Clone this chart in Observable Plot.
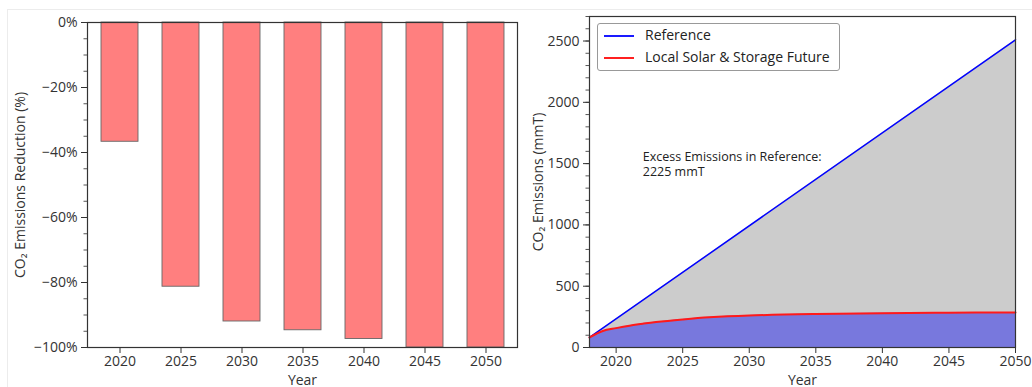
<!DOCTYPE html>
<html>
<head>
<meta charset="utf-8">
<script src="https://cdn.jsdelivr.net/npm/d3@7"></script>
<script src="https://cdn.jsdelivr.net/npm/@observablehq/plot@0.6"></script>
<style>
  html, body { margin: 0; padding: 0; background: #fff; }
  body { width: 1032px; height: 387px; position: relative; overflow: hidden; font-family: "Open Sans", sans-serif; }
  #card { position: absolute; left: 7px; top: 9px; width: 1040px; height: 400px; border-top: 1px solid #ececec; border-left: 1px solid #ececec; }
  #left { position: absolute; left: 0; top: 0; }
  #right { position: absolute; left: 520px; top: 0; }
  #legend { position: absolute; left: 597px; top: 23px; width: 241px; height: 46px; border: 1px solid #999; border-radius: 3px; background: #fff; font-size: 14px; color: #222; }
  .item { position: absolute; left: 0; height: 20px; line-height: 20px; white-space: nowrap; }
  .sw { position: absolute; left: 6px; top: 10px; width: 30px; }
  .lab { position: absolute; left: 47px; top: 0; }
</style>
</head>
<body>
<div id="card"></div>
<div id="left"></div>
<div id="right"></div>
<div id="legend">
  <div class="item" style="top:1px"><div class="sw" style="height:1.5px;background:#1a1aff"></div><span class="lab">Reference</span></div>
  <div class="item" style="top:23px"><div class="sw" style="height:2px;background:#ff2020"></div><span class="lab">Local Solar &amp; Storage Future</span></div>
</div>
<script>
// ---- Left chart data ----
const barYears = ["2020", "2025", "2030", "2035", "2040", "2045", "2050"];
const reductionPct = [-36.7, -81.3, -92.0, -94.7, -97.4, -100, -100];
const leftYTicks = [0, -20, -40, -60, -80, -100];
const leftYMinor = d3.range(-100, 1, 5);

// ---- Right chart data ----
const refYears = [2018, 2050];
const refEmissions = [82, 2510];
const localYears = [2018, 2019, 2020, 2021, 2022, 2023, 2025, 2027, 2030, 2035, 2040, 2045, 2050];
const localEmissions = [82, 135, 158, 178, 194, 208, 229, 246, 261, 273, 280, 284, 286];
const rightYTicks = [0, 500, 1000, 1500, 2000, 2500];
const rightYMinor = d3.range(0, 2701, 100);
const rightXTicks = [2020, 2025, 2030, 2035, 2040, 2045, 2050];
const annotation = "Excess Emissions in Reference:\n2225 mmT";
const annotationAt = {x: 2022, y: 1500};

const barData = barYears.map((y, i) => ({year: y, value: reductionPct[i]}));
const refData = refYears.map((y, i) => ({year: y, value: refEmissions[i]}));
const localData = localYears.map((y, i) => ({year: y, value: localEmissions[i]}));

const pctFmt = d => d === 0 ? "0%" : "\u2212" + Math.abs(d) + "%";
const baseStyle = {fontFamily: "Open Sans, sans-serif", fontSize: "14px", color: "#333", overflow: "visible", background: "transparent"};

const left = Plot.plot({
  width: 520,
  height: 387,
  marginLeft: 87,
  marginRight: 3,
  marginTop: 22,
  marginBottom: 40,
  style: baseStyle,
  x: {type: "band", domain: barYears, paddingInner: 0.4, paddingOuter: 0.2},
  y: {domain: [-100, 0]},
  marks: [
    Plot.barY(barData, {x: "year", y: "value", fill: "#ff7f7f", stroke: "#666", strokeWidth: 0.9}),
    Plot.frame({stroke: "#333", strokeWidth: 1.2}),
    Plot.axisY(leftYMinor, {tickSize: 3.5, text: null, label: null, stroke: "#555"}),
    Plot.axisY(leftYTicks, {tickSize: 6, tickPadding: 4, tickFormat: pctFmt, label: "CO\u2082 Emissions Reduction (%)", labelAnchor: "center", labelArrow: "none", labelOffset: 72, stroke: "#333"}),
    Plot.axisX({tickSize: 6, tickPadding: 3, label: "Year", labelAnchor: "center", labelArrow: "none", labelOffset: 37, stroke: "#333"})
  ]
});
document.getElementById("left").append(left);

const right = Plot.plot({
  width: 512,
  height: 387,
  marginLeft: 69,
  marginRight: 17,
  marginTop: 16,
  marginBottom: 40,
  style: baseStyle,
  x: {domain: [2018, 2050]},
  y: {domain: [0, 2700]},
  marks: [
    Plot.areaY(refData, {x: "year", y: "value", fill: "#cccccc"}),
    Plot.areaY(localData, {x: "year", y: "value", fill: "#7878dd", curve: "catmull-rom"}),
    Plot.lineY(refData, {x: "year", y: "value", stroke: "#0000ff", strokeWidth: 1.5}),
    Plot.lineY(localData, {x: "year", y: "value", stroke: "#ff1a1a", strokeWidth: 2, curve: "catmull-rom"}),
    Plot.text([annotation], {x: annotationAt.x, y: annotationAt.y, text: d => d, textAnchor: "start", lineAnchor: "middle", fontSize: 12.5, fill: "#222", lineHeight: 1.25}),
    Plot.frame({stroke: "#333", strokeWidth: 1.2}),
    Plot.axisY(rightYMinor, {tickSize: 3.5, text: null, label: null, stroke: "#555"}),
    Plot.axisY(rightYTicks, {tickSize: 6, tickPadding: 4, tickFormat: d => String(d), label: "CO\u2082 Emissions (mmT)", labelAnchor: "center", labelArrow: "none", labelOffset: 56, stroke: "#333"}),
    Plot.axisX(rightXTicks, {tickSize: 6, tickPadding: 3, tickFormat: d => String(d), label: "Year", labelAnchor: "center", labelArrow: "none", labelOffset: 37, stroke: "#333"})
  ]
});
document.getElementById("right").append(right);
</script>
</body>
</html>
